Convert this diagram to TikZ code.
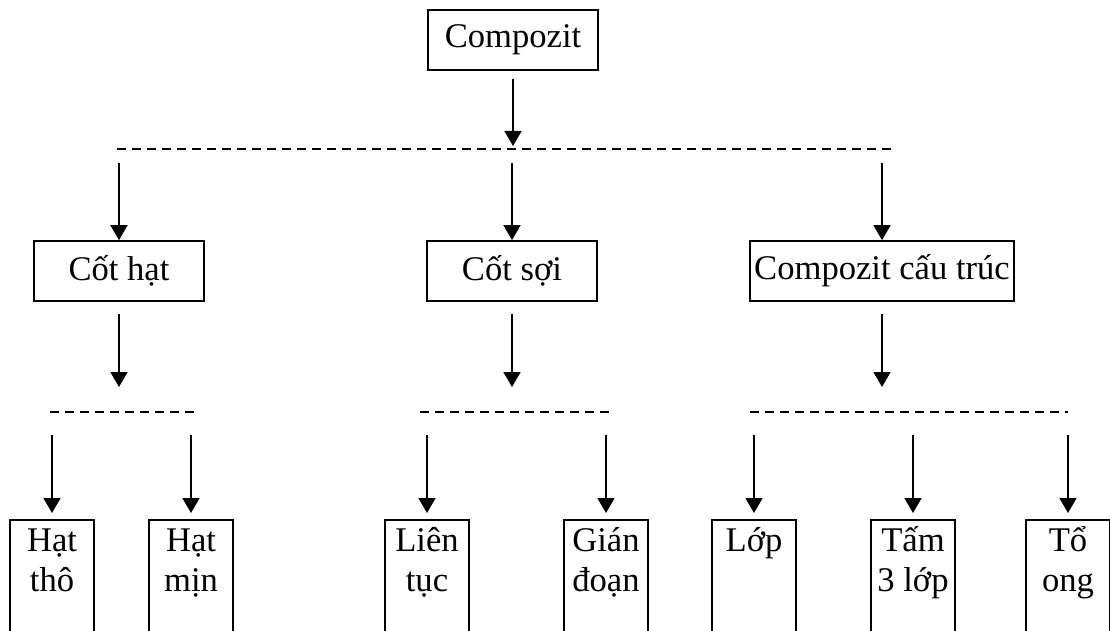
\documentclass[tikz,border=0pt]{standalone}
\usepackage{fontspec}
\setmainfont{Liberation Serif}
\usetikzlibrary{arrows.meta}
\newcommand{\twoline}[2]{\begin{tabular}[t]{@{}c@{}}#1\\#2\end{tabular}}
\begin{document}
\begin{tikzpicture}[x=0.5pt, y=-0.5pt, line width=0.85pt,
        font=\fontsize{17.3}{20}\selectfont,
        box/.style={draw, minimum width=85pt, minimum height=30pt, inner xsep=2pt},
        leaf/.style={draw, anchor=north, minimum width=42pt, inner sep=0pt, text height=16pt, text depth=80pt},
        arr/.style={-{Triangle[width=8.5pt,length=7.5pt]}},
        sep/.style={dash pattern=on 4.5pt off 3pt}]
        \useasboundingbox (0,0) rectangle (1110,631);
        \clip (0,0) rectangle (1110,631);
        \node[box] (comp) at (513,40) {Compozit};
        \node[box] (hat) at (119,271) {Cốt hạt};
        \node[box] (soi) at (512,271) {Cốt sợi};
        \node[box] (ctr) at (882,271) {Compozit cấu trúc};
        \node[leaf] (tho) at (52,519) {\twoline{Hạt}{thô}};
        \node[leaf] (min) at (191,519) {\twoline{Hạt}{mịn}};
        \node[leaf] (lien) at (427,519) {\twoline{Liên}{tục}};
        \node[leaf] (gian) at (606,519) {\twoline{Gián}{đoạn}};
        \node[leaf] (lop) at (754,519) {Lớp};
        \node[leaf] (tam) at (913,519) {\twoline{Tấm}{3 lớp}};
        \node[leaf] (tong) at (1068,519) {\twoline{Tổ}{ong}};
        \coordinate (l0a) at (117,149);
        \coordinate (l0b) at (895,149);
        \coordinate (l1a) at (50,412);
        \coordinate (l1b) at (195,412);
        \coordinate (l2a) at (420,412);
        \coordinate (l2b) at (610,412);
        \coordinate (l3a) at (750,412);
        \coordinate (l3b) at (1068,412);
        \draw[sep] (l0a) -- (l0b);
        \draw[sep] (l1a) -- (l1b);
        \draw[sep] (l2a) -- (l2b);
        \draw[sep] (l3a) -- (l3b);
        \draw[arr, shorten <=4pt, shorten >=1.5pt] (comp.south) -- (comp.south |- l0a);
        \foreach \n/\l in {hat/l1a, soi/l2a, ctr/l3a} {
          \draw[arr, shorten <=7pt] (\n.north |- l0a) -- (\n.north);
          \draw[arr, shorten <=6pt, shorten >=12.5pt] (\n.south) -- (\n.south |- \l);
        }
        \foreach \n/\l in {tho/l1a, min/l1a, lien/l2a, gian/l2a, lop/l3a, tam/l3a, tong/l3a}
          \draw[arr, shorten <=11.5pt, shorten >=3pt] (\n.north |- \l) -- (\n.north);
      \end{tikzpicture}
\end{document}
